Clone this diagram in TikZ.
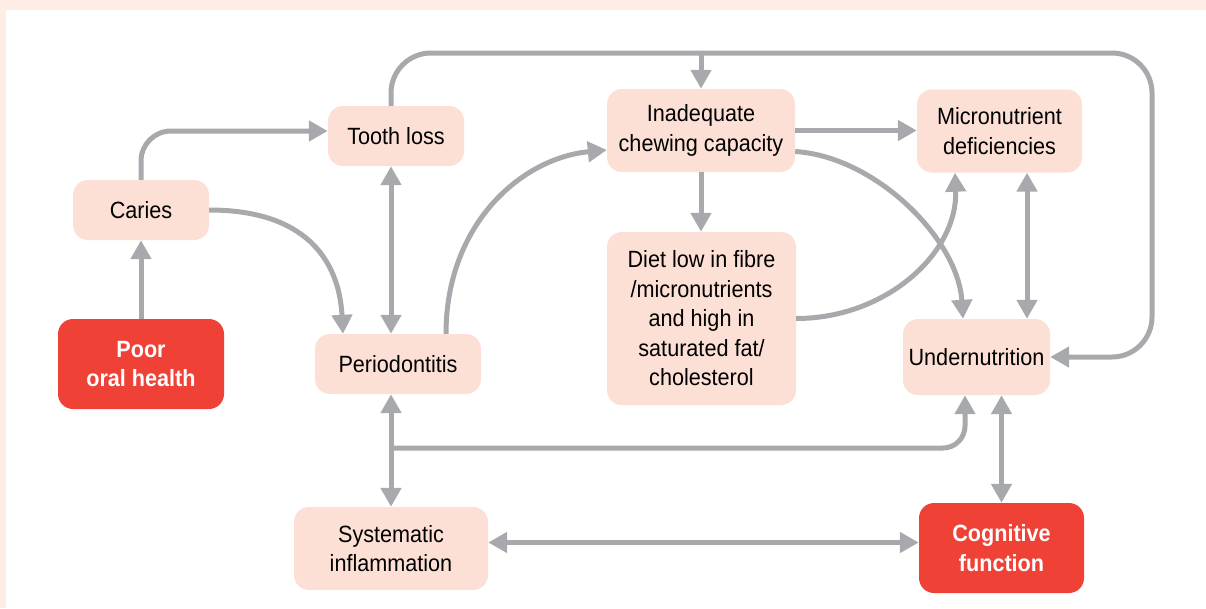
\documentclass[tikz,border=0pt]{standalone}
\usepackage{fontspec}
\setmainfont{Liberation Sans}[FakeStretch=0.92]
\usetikzlibrary{arrows.meta,calc}
\definecolor{peach}{HTML}{FDEDE4}
\definecolor{boxfill}{HTML}{FCE0D5}
\definecolor{redbox}{HTML}{EF4136}
\definecolor{arrgray}{HTML}{A7A9AC}
\begin{document}
\begin{tikzpicture}[x=1pt,y=-1pt,
  box/.style={rectangle, rounded corners=15pt, fill=boxfill, align=center, inner sep=0pt,
    font=\fontsize{23.5}{29.5}\selectfont, text=black},
  redb/.style={box, fill=redbox, text=white, font=\fontsize{23.5}{29.5}\selectfont\bfseries},
  arr/.style={draw=arrgray, line width=5pt, -{Triangle[length=19pt,width=20pt]}},
  darr/.style={draw=arrgray, line width=5pt, {Triangle[length=19pt,width=20pt]}-{Triangle[length=19pt,width=20pt]}},
]
\fill[peach] (0,0) rectangle (1206,608);
\fill[white] (6,10) rectangle (1206,608);
\useasboundingbox (0,0) rectangle (1206,608);

\node[box, minimum width=136pt, minimum height=60pt] (caries) at (141,210) {Caries};
\node[box, minimum width=136pt, minimum height=60pt] (tooth) at (396,136) {Tooth loss};
\node[redb, minimum width=166pt, minimum height=90pt] (poor) at (141,364) {Poor\\oral health};
\node[box, minimum width=166pt, minimum height=60pt] (perio) at (398,364) {Periodontitis};
\node[box, minimum width=188pt, minimum height=83pt] (inad) at (701,130.5) {Inadequate\\chewing capacity};
\node[box, minimum width=165pt, minimum height=83pt] (micro) at (999.5,131) {Micronutrient\\deficiencies};
\node[box, minimum width=189pt, minimum height=173pt] (diet) at (701.5,318.5) {Diet low in fibre\\/micronutrients\\and high in\\saturated fat/\\cholesterol};
\node[box, minimum width=147pt, minimum height=76pt] (under) at (976.5,357) {Undernutrition};
\node[box, minimum width=194pt, minimum height=83pt] (sys) at (391,548.5) {Systematic\\inflammation};
\node[redb, minimum width=165pt, minimum height=90pt] (cog) at (1001.5,548) {Cognitive\\function};

\coordinate (tl) at (391,53);
\coordinate (tr) at (1152,53);
\coordinate (br) at (391,448);

\draw[arr] (poor.north) -- (caries.south);
\draw[arr, rounded corners=30pt] (caries.north) |- ([yshift=5pt]tooth.west);
\draw[arr] (caries.east) .. controls +(95,0) and +(-4,-75) .. ([xshift=-55pt]perio.north);
\draw[arr, rounded corners=40pt] (tooth.north -| sys.north) -- (tl) -- (tr) |- (under.east);
\draw[arr] (inad.north |- tl) -- (inad.north);
\draw[darr] (tooth.south -| sys.north) -- (perio.north -| sys.north);
\draw[arr] ([xshift=48pt]perio.north) .. controls +(0,-110) and +(-85,8) .. ([yshift=-19.5pt]inad.west);
\draw[arr] (inad.east) -- (inad.east -| micro.west);
\draw[arr] ([yshift=-21pt]inad.east) .. controls +(80,5) and +(-5,-80) .. ([xshift=-13.5pt]under.north);
\draw[arr] (inad.south) -- (inad.south |- diet.north);
\draw[arr] (diet.east) .. controls +(90,0) and +(3,80) .. ([xshift=-44.5pt]micro.south);
\draw[darr] ([xshift=27.5pt]micro.south) -- ([xshift=27.5pt]micro.south |- under.north);
\draw[darr] (perio.south -| sys.north) -- (sys.north);
\draw[arr, rounded corners=22pt] (br) -| ([xshift=-11.5pt]under.south);
\draw[darr] ([yshift=6pt]sys.east) -- ([yshift=6pt]sys.east -| cog.west);
\draw[darr] (cog.north) -- (cog.north |- under.south);
\end{tikzpicture}
\end{document}
